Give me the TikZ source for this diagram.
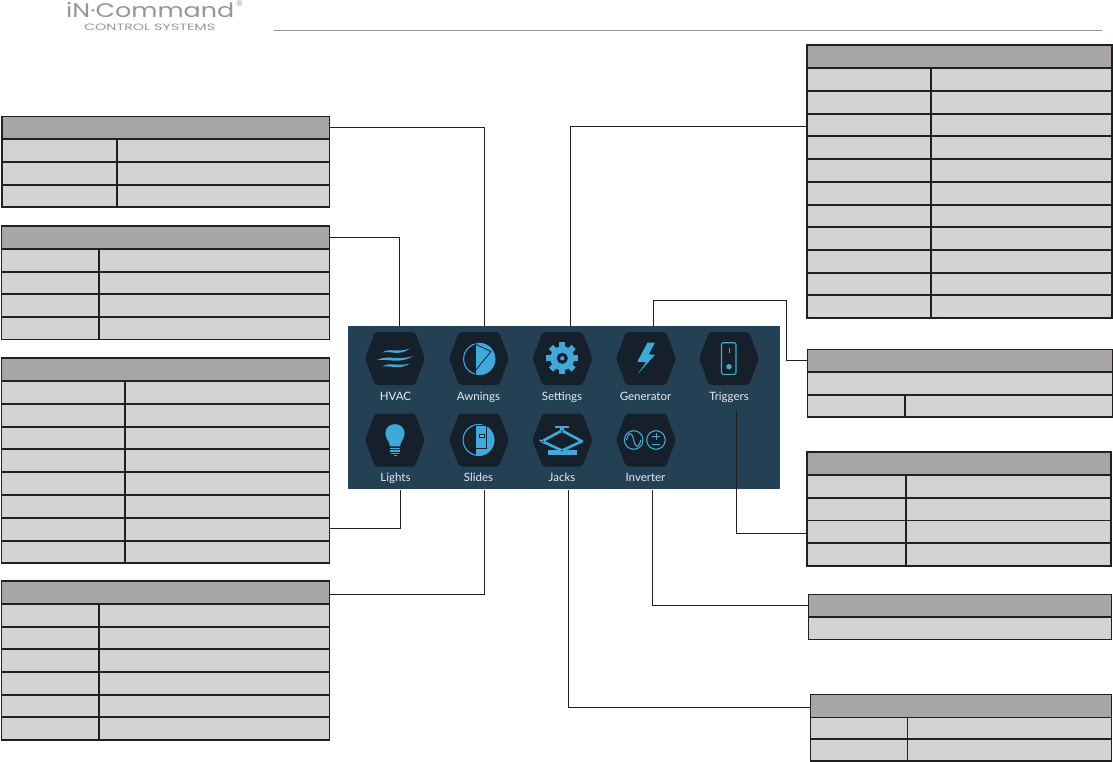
\documentclass[tikz,border=0pt]{standalone}
\usepackage{fontspec}
\setmainfont{Lato}
\newfontfamily\logofont{Poppins}
\usetikzlibrary{calc}
\definecolor{headgray}{HTML}{A7A5A6}
\definecolor{cellgray}{HTML}{D2D3D4}
\definecolor{rulecol}{HTML}{231F20}
\definecolor{panelblue}{HTML}{244054}
\definecolor{hexdark}{HTML}{16202A}
\definecolor{iconblue}{HTML}{3FA9DC}
\definecolor{labelwhite}{HTML}{E4EAED}
\definecolor{logogray}{HTML}{969696}
\tikzset{
  x=1pt,y=-1pt,
  cellbox/.style={draw=rulecol,line width=1.2pt,fill=cellgray,inner sep=0pt,outer sep=0pt,anchor=north west},
  headbox/.style={cellbox,fill=headgray},
  conn/.style={draw=rulecol,line width=1pt},
  hexshape/.style={fill=hexdark,rounded corners=3pt},
  iconlabel/.style={text=labelwhite,font=\fontsize{11.5}{13}\selectfont,inner sep=0pt,anchor=base},
  iconfill/.style={fill=iconblue,draw=none},
  iconline/.style={draw=iconblue,line width=1.1pt},
  heavyrule/.style={draw=rulecol,line width=2pt}
}
% \cellnode{name}{x1}{y1}{x2}{y2}{style}
\newcommand\cellnode[6]{%
  \pgfmathsetmacro\cw{#4-#2}\pgfmathsetmacro\ch{#5-#3}%
  \node[#6,minimum width=\cw pt,minimum height=\ch pt] (#1) at (#2,#3) {};}
% \tablerows{name}{x1}{col}{x2}{y0,y1,...} : first interval is the header
\newcommand\tablerows[5]{%
  \foreach \yy [count=\n from 0, remember=\yy as \py] in {#5}{%
    \ifnum\n=1 \cellnode{#1h}{#2}{\py}{#4}{\yy}{headbox}\fi
    \ifnum\n>1
      \cellnode{#1r\n a}{#2}{\py}{#3}{\yy}{cellbox}%
      \cellnode{#1r\n b}{#3}{\py}{#4}{\yy}{cellbox}%
    \fi
  }}
\newcommand\hexat[2]{%
  \path[hexshape] (#1-30,#2) -- (#1-20,#2-26.5) -- (#1+20,#2-26.5) -- (#1+30,#2) -- (#1+20,#2+26.5) -- (#1-20,#2+26.5) -- cycle;}
\begin{document}
\begin{tikzpicture}
\useasboundingbox (0,0) rectangle (1113,762);
\fill[white] (0,0) rectangle (1113,762);
% logo
\node[inner sep=0pt,text=logogray,anchor=north west] (logo) at (66,2.5) {\resizebox{168pt}{15pt}{\logofont iN·Command}};
\node[inner sep=0pt,text=logogray,anchor=north west] (reg) at (236,1) {\fontsize{8}{8}\selectfont ®};
\node[inner sep=0pt,text=logogray,anchor=north west] (ctl) at (84,23.5) {\resizebox{131pt}{6.5pt}{\logofont CONTROL SYSTEMS}};
\coordinate (ruleA) at (274,31);
\coordinate (ruleB) at (1102,31);
\draw[draw=logogray,line width=1pt] (ruleA) -- (ruleB);
% tables
\tablerows{aw}{2}{117}{329.5}{116.5,139,162,185,207}
\tablerows{hv}{1.5}{99}{329.5}{226,249,272,294,317,339.5}
\tablerows{li}{1.5}{125}{329.5}{358,381,404,427,449,472,495,518,541,563}
\tablerows{sl}{1.5}{99}{329.5}{581,604,627,649,672,695,717,740}
\tablerows{se}{807}{931}{1112}{45,68,91,114,136,159,182,205,227,250,273,295,318}
\cellnode{geh}{807.5}{349.5}{1112.5}{372}{headbox}
\cellnode{ger}{807.5}{372}{1112.5}{395}{cellbox}
\cellnode{gea}{807.5}{395}{905}{417}{cellbox}
\cellnode{geb}{905}{395}{1112.5}{417}{cellbox}
\tablerows{tr}{807}{906}{1111}{452,475,498,520.5,543,566}
\cellnode{inh}{808.5}{594.5}{1111.5}{617}{headbox}
\cellnode{inr}{808.5}{617}{1111.5}{639.5}{cellbox}
\tablerows{ja}{810.5}{907.5}{1111.5}{694.5,717.5,739,761}
% heavier rules as in the reference
\foreach \xa/\xb/\yy in {2/329.5/185, 1.5/329.5/249, 1.5/329.5/317, 1.5/329.5/563,
  1.5/329.5/649, 1.5/329.5/695, 807/1112/91, 807.5/1112.5/372, 808.5/1111.5/617, 810.5/1111.5/739}
  \draw[heavyrule] (\xa,\yy) -- (\xb,\yy);
\draw[heavyrule] (125,541) -- (125,563);
\draw[heavyrule] (931,68) -- (931,91);
\draw[heavyrule] (931,295) -- (931,318);
% panel
\fill[panelblue] (348,326) rectangle (780,489);
\hexat{395}{358.5}\hexat{479}{358.5}\hexat{562.5}{358.5}\hexat{646}{358.5}\hexat{729}{358.5}
\hexat{395}{440}\hexat{479}{440}\hexat{562.5}{440}\hexat{646}{440}
% labels
\node[iconlabel] (lhvac) at (395.5,400) {HVAC};
\node[iconlabel] (lawn) at (478.5,400) {Awnings};
\node[iconlabel] (lset) at (562,400) {Settings};
\node[iconlabel] (lgen) at (645.5,400) {Generator};
\node[iconlabel] (ltrg) at (729,400) {Triggers};
\node[iconlabel] (llig) at (395.5,481) {Lights};
\node[iconlabel] (lsli) at (478.5,481) {Slides};
\node[iconlabel] (ljac) at (562,481) {Jacks};
\node[iconlabel] (linv) at (645.5,481) {Inverter};
% HVAC icon
\fill[iconblue] (382,352.5) .. controls (390,347.5) and (398,353) .. (410,348.5) .. controls (399,356.5) and (391,350.5) .. (382,352.5) -- cycle;
\fill[iconblue] (377,360) .. controls (388,354.5) and (398,361) .. (413,356) .. controls (400,364.5) and (388,358.5) .. (377,360) -- cycle;
\fill[iconblue] (382,366.5) .. controls (391,361.5) and (398,367) .. (410,363.5) .. controls (399,370.5) and (391,365) .. (382,366.5) -- cycle;
% Awnings icon
\begin{scope}
\clip (475,340) rectangle (497,378);
\fill[iconblue] (479.2,359) circle[radius=16];
\end{scope}
\draw[iconline] (479.2,359) circle[radius=15.6];
\draw[draw=hexdark,line width=.8pt] (475,344) -- (491,351.5) -- (475,371);
\draw[draw=hexdark,line width=.9pt] (475,343) -- (475,375);
% Settings icon
\foreach \a in {0,45,...,315}
  \fill[iconblue,rotate around={\a:(562.3,358.3)}] (559.3,342.3) rectangle (565.3,350);
\fill[iconblue] (562.3,358.3) circle[radius=12];
\fill[hexdark] (562.3,358.3) circle[radius=5.6];
\fill[iconblue] (562.3,358.3) circle[radius=2.1];
% Generator icon
\fill[iconblue] (647.5,342.7) -- (654.8,342.7) -- (648.8,354.3) -- (655,354.8) -- (637.3,374.5) -- (646,362.3) -- (637.3,361.7) -- cycle;
% Triggers icon
\draw[iconline,rounded corners=1.5pt] (721.5,342.7) rectangle (736,374.3);
\draw[draw=iconblue,line width=1pt] (729,348.3) -- (729,352.7);
\fill[iconblue] (729,366.7) circle[radius=2.7];
% Lights icon
\fill[iconblue] (390,446.3) .. controls (389,440) and (385.4,439) .. (385.4,433.5) .. controls (385.4,421) and (404.6,421) .. (404.6,433.5) .. controls (404.6,439) and (401,440) .. (400,446.3) -- cycle;
\foreach \ya/\w in {448.6/5, 451/5, 453.4/4}
  \draw[draw=iconblue,line width=1.1pt] (395-\w,\ya) -- (395+\w,\ya);
\draw[draw=iconblue,line width=1.1pt] (393.5,455.6) -- (396.5,455.6);
% Slides icon
\begin{scope}
\clip (475,420) rectangle (497,460);
\fill[iconblue] (478.5,440) circle[radius=15.8];
\end{scope}
\draw[iconline] (478.5,440) circle[radius=15.4];
\draw[draw=hexdark,line width=.9pt] (475,425) -- (475,455);
\draw[draw=hexdark,line width=.6pt] (475.5,425.3) -- (486.5,425.3) -- (486.5,448.5) -- (475.5,448.5);
\fill[hexdark] (478.5,433.8) rectangle (485.3,437.8);
\fill[iconblue!80!white] (479.5,434.8) rectangle (484.3,436.8);
% Jacks icon
\fill[iconblue] (555.3,426) rectangle (568.7,428.2);
\fill[iconblue] (560.3,428) rectangle (563.7,431);
\fill[iconblue] (548,450.3) rectangle (577,454.8);
\draw[draw=iconblue,line width=2.6pt,line join=round] (562,430.5) -- (582,441.3) -- (562,450.5) -- (542,441.3) -- cycle;
\draw[draw=iconblue,line width=1.6pt] (539.5,440) -- (544,442);
\fill[hexdark] (562,431) circle[radius=.8];
\fill[hexdark] (562,450.5) circle[radius=.8];
\fill[hexdark] (543,441.3) circle[radius=.8];
% Inverter icon
\draw[iconline] (633.7,440) circle[radius=9.3];
\draw[iconline] (656,440) circle[radius=9.3];
\draw[iconline] (626.5,440) .. controls (629,431) and (632,432) .. (633.7,440) .. controls (635.4,448) and (638.4,449) .. (640.9,440);
\draw[draw=iconblue,line width=1pt] (652.2,436.8) -- (659.8,436.8) (656,433.2) -- (656,440.2);
\draw[draw=iconblue,line width=1.2pt] (652.2,444.5) -- (659.8,444.5);
% connector ends at the panel
\coordinate (cAwn) at (484,326);
\coordinate (cHva) at (399.5,326);
\coordinate (cLig) at (400.5,490);
\coordinate (cSli) at (484.5,490);
\coordinate (cSet) at (570,326);
\coordinate (cGen) at (653,326);
\coordinate (cGenA) at (786,300);
\coordinate (cTrg) at (736.5,410);
\coordinate (cInv) at (652.5,490);
\coordinate (cJac) at (568.5,490);
% connectors
\draw[conn] (awh.east) -| (cAwn);
\draw[conn] (hvh.east) -| (cHva);
\draw[conn] ([yshift=1pt]lir8b.east) -| (cLig);
\draw[conn] ([yshift=-1.5pt]slh.east) -| (cSli);
\draw[conn] ([yshift=-2pt]ser4a.west) -| (cSet);
\draw[conn] (geh.west) -| (cGenA) -| (cGen);
\draw[conn] ([yshift=-1.5pt]trr4a.west) -| (cTrg);
\draw[conn] (inh.west) -| (cInv);
\draw[conn] ([yshift=-1.5pt]jah.west) -| (cJac);
\end{tikzpicture}
\end{document}
